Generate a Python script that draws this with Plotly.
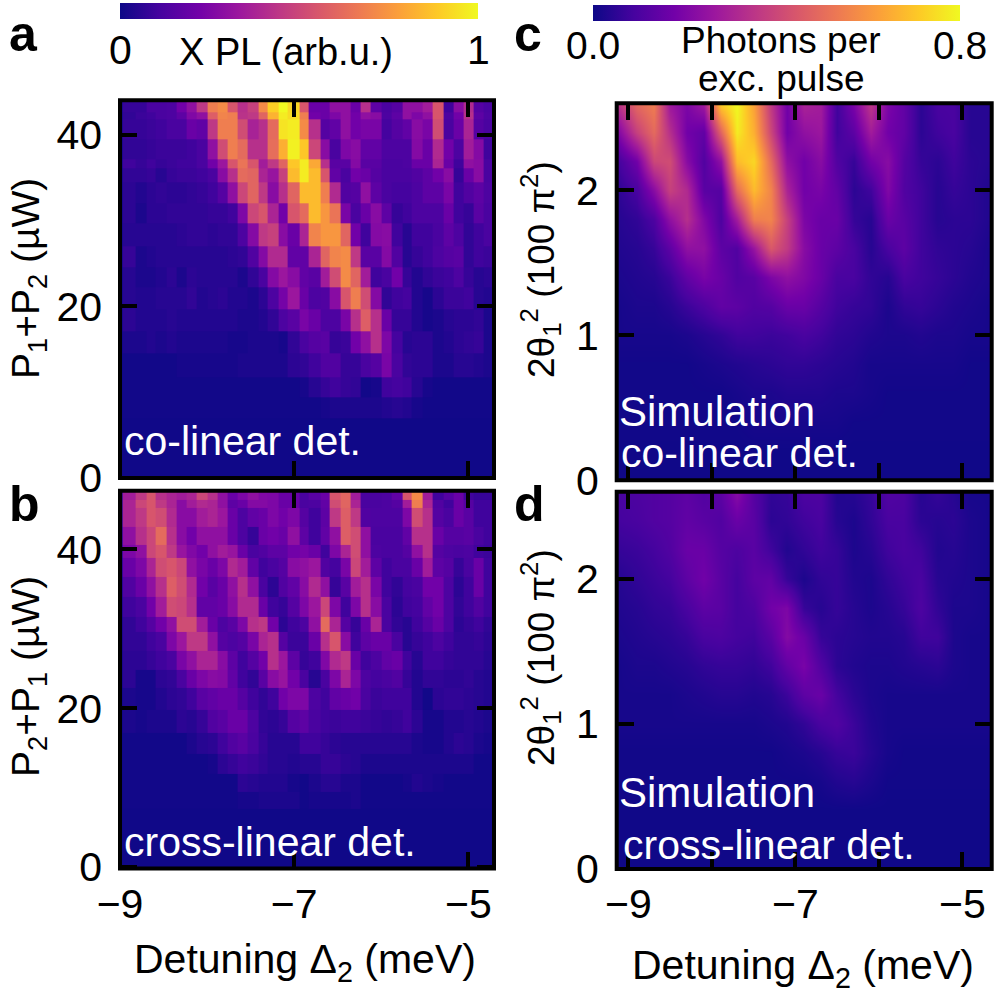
import plotly.graph_objects as go

W = 997
FONT = "Liberation Sans"

# Detuning bin edges of the measured maps (meV)
x_edges_exp = [-8.97, -8.82, -8.70, -8.59, -8.47, -8.35, -8.23, -8.12, -7.99, -7.88, -7.76, -7.65, -7.53,
               -7.41, -7.30, -7.18, -7.07, -6.94, -6.83, -6.70, -6.59, -6.47, -6.35, -6.24, -6.12, -6.00,
               -5.88, -5.76, -5.65, -5.53, -5.41, -5.29, -5.17, -5.06, -4.94, -4.83, -4.70]
# Power bin edges, top to bottom (uW)
y_edges_a = [44.0, 42.64, 41.75, 39.42, 37.09, 36.04, 34.49, 31.96, 29.63, 26.99, 24.58, 22.17, 19.61, 17.13,
             14.56, 11.77, 9.44, 6.99, 0.0]
y_edges_b = [47.5, 46.22, 45.17, 42.86, 40.55, 38.87, 36.55, 34.03, 31.51, 29.62, 27.23, 24.87, 22.61, 19.83,
             16.93, 14.29, 11.76, 9.45, 7.35, -0.2]

z_a = [
 [.08,.08,.12,.12,.13,.22,.30,.45,.68,.72,.55,.42,.48,.72,.90,1.0,.92,.55,.20,.20,.30,.30,.20,.42,.17,.12,.15,.30,.30,.35,.55,.10,.28,.40,.15,.12],
 [.07,.09,.10,.12,.13,.17,.26,.30,.58,.70,.68,.43,.45,.60,.83,.97,.93,.68,.22,.20,.25,.30,.22,.30,.28,.13,.17,.30,.25,.30,.55,.13,.22,.42,.17,.13],
 [.08,.08,.09,.10,.12,.12,.20,.18,.45,.68,.68,.52,.37,.42,.62,.95,.97,.72,.42,.15,.18,.30,.22,.24,.24,.11,.15,.18,.28,.24,.52,.12,.20,.38,.15,.12],
 [.07,.07,.08,.09,.09,.09,.10,.12,.30,.52,.68,.62,.42,.42,.63,.82,.98,.88,.50,.28,.12,.25,.28,.18,.18,.13,.13,.13,.27,.20,.40,.22,.13,.35,.27,.10],
 [.10,.08,.10,.08,.09,.10,.10,.12,.22,.33,.55,.65,.55,.35,.45,.60,.88,.97,.80,.42,.16,.16,.27,.16,.16,.12,.12,.13,.20,.20,.38,.20,.10,.30,.28,.12],
 [.07,.07,.08,.05,.08,.09,.09,.10,.12,.28,.42,.62,.60,.38,.32,.48,.85,.97,.85,.55,.18,.12,.22,.20,.15,.12,.12,.12,.14,.17,.22,.28,.08,.20,.28,.12],
 [.06,.04,.06,.07,.06,.06,.07,.08,.10,.15,.30,.50,.60,.45,.28,.42,.60,.85,.85,.68,.40,.14,.15,.30,.17,.12,.11,.11,.13,.17,.17,.24,.10,.14,.17,.13],
 [.06,.03,.06,.06,.07,.07,.07,.07,.08,.08,.10,.25,.50,.55,.38,.22,.55,.62,.85,.75,.65,.24,.12,.20,.28,.17,.08,.10,.13,.13,.13,.20,.10,.08,.16,.12],
 [.05,.05,.05,.05,.05,.06,.07,.07,.06,.07,.07,.13,.27,.45,.48,.28,.20,.38,.70,.75,.75,.60,.22,.10,.27,.28,.10,.05,.10,.10,.12,.17,.13,.07,.10,.12],
 [.08,.03,.04,.05,.05,.05,.05,.05,.05,.05,.06,.07,.14,.27,.40,.40,.18,.18,.38,.60,.70,.72,.45,.16,.16,.27,.14,.05,.08,.10,.13,.15,.16,.07,.10,.09],
 [.05,.03,.03,.04,.06,.03,.06,.05,.05,.05,.05,.03,.07,.12,.27,.33,.28,.18,.16,.35,.52,.72,.60,.35,.10,.12,.22,.08,.04,.07,.09,.10,.13,.08,.05,.06],
 [.05,.04,.04,.05,.05,.05,.07,.04,.05,.06,.04,.04,.03,.06,.13,.23,.33,.20,.13,.14,.28,.55,.68,.52,.27,.07,.10,.11,.04,.02,.06,.09,.09,.10,.05,.04],
 [.06,.04,.04,.04,.05,.04,.04,.04,.04,.04,.04,.03,.03,.04,.07,.13,.16,.24,.20,.13,.13,.24,.42,.58,.42,.20,.08,.08,.04,.02,.03,.05,.06,.06,.07,.03],
 [.03,.03,.04,.03,.04,.03,.03,.03,.03,.03,.02,.02,.03,.03,.03,.02,.07,.12,.15,.16,.08,.09,.22,.30,.42,.25,.11,.05,.06,.06,.03,.04,.06,.07,.08,.03],
 [.01,.01,.01,.01,.01,.02,.02,.02,.02,.02,.02,.03,.03,.03,.03,.03,.06,.07,.10,.14,.14,.08,.08,.12,.15,.24,.12,.07,.06,.06,.03,.03,.05,.05,.04,.03],
 [.01,.01,.01,.01,.01,.01,.01,.01,.01,.01,.01,.01,.01,.01,.01,.01,.01,.02,.05,.08,.10,.08,.07,.01,.02,.10,.11,.10,.05,.02,.01,.01,.01,.01,.01,.01],
 [.01,.01,.01,.01,.01,.01,.01,.01,.01,.01,.01,.01,.01,.01,.01,.01,.01,.01,.01,.02,.03,.03,.03,.03,.03,.04,.05,.04,.02,.01,.01,.01,.01,.01,.01,.01],
 [.005,.005,.005,.005,.005,.005,.005,.005,.005,.005,.005,.005,.005,.005,.005,.005,.005,.005,.005,.005,.005,.005,.005,.005,.005,.005,.005,.005,.005,.005,.005,.005,.005,.005,.005,.005],
]

z_b = [
 [.35,.45,.55,.42,.38,.35,.38,.50,.42,.30,.20,.25,.30,.26,.25,.20,.20,.12,.16,.20,.55,.60,.35,.12,.12,.13,.18,.55,.72,.35,.10,.15,.20,.10,.08,.08],
 [.38,.50,.55,.45,.38,.28,.35,.40,.38,.30,.17,.20,.27,.27,.25,.20,.20,.12,.13,.18,.52,.60,.38,.12,.12,.13,.15,.35,.68,.38,.14,.10,.20,.15,.10,.10],
 [.38,.45,.55,.52,.40,.28,.28,.35,.38,.33,.20,.13,.18,.20,.25,.22,.25,.15,.10,.17,.45,.58,.45,.14,.13,.13,.13,.25,.52,.42,.15,.12,.20,.16,.10,.10],
 [.30,.42,.50,.62,.42,.28,.22,.30,.30,.30,.20,.13,.08,.20,.22,.20,.30,.17,.10,.18,.30,.58,.52,.30,.12,.12,.12,.18,.42,.42,.20,.15,.15,.16,.12,.10],
 [.25,.30,.50,.55,.45,.32,.26,.22,.30,.35,.32,.20,.12,.14,.17,.17,.22,.23,.20,.10,.25,.38,.52,.30,.13,.12,.12,.15,.30,.42,.15,.13,.12,.13,.10,.09],
 [.20,.25,.38,.52,.55,.50,.30,.24,.20,.25,.40,.35,.18,.10,.12,.15,.28,.30,.33,.14,.11,.24,.50,.35,.17,.10,.12,.12,.20,.35,.17,.15,.08,.12,.20,.10],
 [.14,.20,.30,.42,.58,.52,.40,.22,.16,.20,.30,.42,.30,.12,.06,.14,.18,.28,.40,.30,.08,.16,.35,.42,.24,.10,.07,.11,.12,.22,.22,.13,.06,.10,.20,.10],
 [.10,.12,.22,.35,.52,.50,.42,.18,.18,.20,.28,.40,.40,.20,.10,.08,.15,.25,.33,.50,.25,.10,.25,.42,.28,.12,.06,.10,.11,.18,.22,.13,.07,.10,.14,.10],
 [.07,.10,.15,.22,.30,.52,.52,.35,.20,.13,.16,.25,.42,.45,.22,.06,.10,.13,.30,.62,.38,.15,.08,.20,.38,.12,.07,.05,.10,.15,.20,.13,.06,.08,.10,.07],
 [.07,.07,.10,.12,.25,.33,.45,.45,.30,.15,.13,.15,.24,.38,.42,.15,.09,.09,.20,.42,.55,.28,.10,.17,.20,.20,.12,.05,.08,.10,.13,.10,.07,.07,.08,.06],
 [.06,.06,.08,.10,.12,.24,.30,.38,.38,.28,.17,.10,.15,.22,.42,.33,.17,.08,.10,.26,.40,.45,.20,.10,.13,.18,.20,.10,.05,.10,.10,.08,.07,.07,.07,.05],
 [.06,.02,.02,.06,.07,.12,.20,.25,.28,.27,.18,.10,.07,.16,.28,.32,.22,.12,.05,.12,.25,.38,.25,.13,.11,.12,.14,.08,.04,.07,.07,.06,.06,.07,.05,.04],
 [.03,.02,.02,.04,.06,.07,.10,.16,.18,.20,.20,.15,.10,.07,.10,.22,.25,.25,.13,.10,.18,.20,.22,.12,.09,.10,.10,.10,.04,.01,.06,.07,.07,.06,.05,.04],
 [.03,.02,.03,.03,.03,.06,.05,.08,.14,.16,.20,.20,.13,.07,.06,.08,.15,.17,.12,.10,.09,.10,.10,.09,.08,.07,.08,.10,.06,.02,.02,.04,.04,.05,.04,.03],
 [.01,.01,.01,.01,.01,.01,.03,.05,.06,.10,.14,.16,.12,.08,.05,.05,.05,.10,.10,.08,.06,.05,.05,.05,.05,.05,.05,.05,.03,.02,.02,.04,.06,.05,.03,.02],
 [.01,.01,.01,.01,.01,.01,.01,.01,.02,.06,.08,.10,.09,.07,.05,.05,.04,.05,.05,.08,.08,.06,.05,.03,.03,.03,.03,.03,.03,.03,.03,.03,.03,.03,.01,.01],
 [.01,.01,.01,.01,.01,.01,.01,.01,.01,.01,.01,.06,.05,.04,.04,.04,.02,.01,.03,.05,.05,.03,.03,.01,.01,.01,.01,.02,.04,.03,.02,.01,.01,.01,.01,.01],
 [.01,.01,.01,.01,.01,.01,.01,.01,.01,.01,.01,.02,.02,.03,.03,.03,.03,.01,.02,.02,.02,.02,.03,.01,.01,.01,.01,.01,.01,.01,.01,.01,.01,.01,.01,.01],
 [.005,.005,.005,.005,.005,.005,.005,.005,.005,.005,.005,.005,.005,.005,.005,.005,.005,.005,.005,.005,.005,.005,.005,.005,.005,.005,.005,.005,.005,.005,.005,.005,.005,.005,.005,.005],
]

# Simulation sample positions
x_sim = [-9.1, -8.9, -8.7, -8.5, -8.3, -8.1, -7.9, -7.7, -7.5, -7.3, -7.1, -6.9, -6.7, -6.5, -6.3, -6.1, -5.9,
         -5.7, -5.5, -5.3, -5.1, -4.9, -4.7]
y_sim = [2.6, 2.4, 2.2, 2.0, 1.8, 1.6, 1.4, 1.2, 1.0, 0.8, 0.6, 0.4, 0.2, 0.0]

# Photons per pulse as fraction of the 0.8 colour-bar maximum
frac_c = [
 [.45,.62,.68,.33,.25,.35,.90,1.0,.78,.45,.22,.38,.35,.10,.25,.45,.25,.18,.06,.12,.12,.05,.05],
 [.28,.48,.62,.42,.22,.18,.60,.97,.82,.50,.22,.30,.33,.10,.17,.35,.22,.18,.06,.10,.12,.05,.05],
 [.12,.22,.50,.52,.28,.14,.30,.85,.92,.62,.30,.22,.28,.14,.08,.22,.28,.15,.08,.06,.10,.06,.05],
 [.07,.12,.28,.48,.40,.16,.15,.62,.85,.70,.38,.22,.24,.18,.06,.10,.26,.14,.10,.05,.08,.06,.04],
 [.05,.07,.13,.30,.42,.26,.13,.35,.68,.70,.48,.25,.20,.20,.08,.05,.20,.16,.10,.05,.06,.06,.04],
 [.04,.05,.08,.17,.30,.30,.17,.14,.32,.56,.46,.28,.20,.17,.12,.05,.12,.17,.10,.07,.06,.05,.03],
 [.03,.04,.05,.09,.18,.24,.20,.14,.16,.25,.30,.26,.20,.12,.12,.07,.05,.12,.10,.08,.06,.04,.03],
 [.02,.03,.03,.05,.09,.13,.18,.17,.14,.15,.20,.20,.15,.10,.08,.07,.03,.07,.08,.06,.04,.03,.02],
 [.02,.02,.02,.02,.03,.05,.07,.10,.10,.09,.10,.12,.10,.07,.06,.04,.03,.03,.04,.03,.03,.02,.02],
 [.01,.01,.01,.01,.01,.02,.03,.04,.05,.06,.07,.07,.06,.05,.04,.02,.02,.02,.02,.02,.02,.01,.01],
 [.01,.01,.01,.01,.01,.01,.01,.02,.03,.03,.04,.04,.04,.03,.03,.02,.01,.01,.01,.01,.01,.01,.01],
 [.01,.01,.01,.01,.01,.01,.01,.01,.02,.02,.02,.02,.02,.02,.01,.01,.01,.01,.01,.01,.01,.01,.01],
 [.005,.005,.005,.005,.005,.005,.005,.005,.005,.005,.005,.005,.005,.005,.005,.005,.005,.005,.005,.005,.005,.005,.005],
 [.005,.005,.005,.005,.005,.005,.005,.005,.005,.005,.005,.005,.005,.005,.005,.005,.005,.005,.005,.005,.005,.005,.005],
]
frac_d = [
 [.12,.13,.14,.15,.17,.14,.17,.28,.15,.07,.08,.13,.13,.04,.05,.08,.14,.13,.05,.08,.05,.02,.02],
 [.11,.12,.14,.15,.18,.16,.14,.20,.16,.06,.07,.10,.12,.05,.03,.07,.12,.12,.06,.05,.06,.03,.02],
 [.08,.09,.11,.14,.20,.20,.15,.13,.16,.10,.04,.07,.10,.08,.03,.05,.10,.12,.10,.04,.05,.03,.02],
 [.05,.07,.09,.11,.17,.22,.16,.11,.17,.18,.08,.03,.07,.08,.04,.03,.07,.10,.12,.05,.04,.03,.02],
 [.04,.05,.07,.08,.12,.17,.16,.11,.13,.22,.25,.08,.05,.08,.05,.03,.05,.08,.13,.07,.03,.03,.02],
 [.03,.04,.05,.06,.08,.12,.13,.11,.10,.16,.27,.20,.08,.06,.05,.04,.04,.05,.10,.10,.03,.02,.02],
 [.02,.03,.03,.04,.05,.07,.08,.08,.07,.10,.18,.24,.14,.06,.04,.03,.03,.04,.05,.06,.03,.02,.02],
 [.02,.02,.02,.02,.03,.04,.05,.05,.04,.05,.09,.17,.20,.11,.06,.03,.02,.02,.02,.02,.02,.02,.02],
 [.02,.02,.02,.02,.02,.02,.02,.02,.02,.03,.04,.07,.12,.14,.09,.04,.02,.02,.02,.02,.02,.02,.02],
 [.01,.01,.01,.01,.01,.01,.01,.01,.01,.01,.02,.03,.05,.08,.09,.05,.02,.01,.01,.01,.01,.01,.01],
 [.01,.01,.01,.01,.01,.01,.01,.01,.01,.01,.01,.01,.02,.04,.05,.03,.01,.01,.01,.01,.01,.01,.01],
 [.005,.005,.005,.005,.005,.005,.005,.005,.005,.005,.005,.005,.005,.005,.005,.005,.005,.005,.005,.005,.005,.005,.005],
 [.005,.005,.005,.005,.005,.005,.005,.005,.005,.005,.005,.005,.005,.005,.005,.005,.005,.005,.005,.005,.005,.005,.005],
 [.005,.005,.005,.005,.005,.005,.005,.005,.005,.005,.005,.005,.005,.005,.005,.005,.005,.005,.005,.005,.005,.005,.005],
]
PHOTONS_MAX = 0.8

for name, m, n in [("a", z_a, 36), ("b", z_b, 36), ("c", frac_c, 23), ("d", frac_d, 23)]:
    for i, r in enumerate(m):
        assert len(r) == n, (name, i, len(r))
assert len(z_a) == len(y_edges_a) - 1 and len(z_b) == len(y_edges_b) - 1
assert len(frac_c) == len(y_sim) and len(frac_d) == len(y_sim)

def fx(p): return p / W
def fy(p): return 1 - p / W

fig = go.Figure()
fig.add_trace(go.Heatmap(x=x_edges_exp, y=y_edges_a[::-1], z=z_a[::-1], coloraxis="coloraxis", xaxis="x", yaxis="y", showlegend=False))
fig.add_trace(go.Heatmap(x=x_edges_exp, y=y_edges_b[::-1], z=z_b[::-1], coloraxis="coloraxis", xaxis="x2", yaxis="y2"))
fig.add_trace(go.Heatmap(x=x_sim, y=y_sim[::-1], z=[[v * PHOTONS_MAX for v in r] for r in frac_c[::-1]],
                         coloraxis="coloraxis2", xaxis="x3", yaxis="y3", zsmooth="best"))
fig.add_trace(go.Heatmap(x=x_sim, y=y_sim[::-1], z=[[v * PHOTONS_MAX for v in r] for r in frac_d[::-1]],
                         coloraxis="coloraxis2", xaxis="x4", yaxis="y4", zsmooth="best"))

TICKFONT = dict(family=FONT, size=41, color="black")
def xax(box, rng, vals, text, labels):
    return dict(domain=[fx(box[0]), fx(box[1])], range=rng, tickmode="array", tickvals=vals, ticktext=text,
                ticks="inside", ticklen=17, tickwidth=4, tickcolor="black", showline=False, mirror="ticks",
                showgrid=False, zeroline=False, showticklabels=labels, tickfont=TICKFONT, ticklabelstandoff=7)
def yax(box, rng, vals):
    return dict(domain=[fy(box[3]), fy(box[2])], range=rng, tickmode="array", tickvals=vals,
                ticktext=[str(v) for v in vals],
                ticks="inside", ticklen=17, tickwidth=4, tickcolor="black", showline=False, mirror="ticks",
                showgrid=False, zeroline=False, tickfont=TICKFONT, ticklabelstandoff=17)

box_a = (120, 494, 100.3, 478)
box_b = (120, 494, 490.7, 868.5)
box_c = (616.7, 991.7, 103.3, 480.3)
box_d = (616.7, 991.7, 491.7, 869)
x_exp = [-9, -4.706]
x_s = [-9.14, -4.65]
maj = [-9, -7, -5]
maj_t = ["−9", "−7", "−5"]
all_v = [-9, -8, -7, -6, -5]
all_t = ["−9", "", "−7", "", "−5"]

fig.update_layout(
    width=W, height=W, margin=dict(l=0, r=0, t=0, b=0, autoexpand=False),
    paper_bgcolor="white", plot_bgcolor="#0d0887", showlegend=False,
    font=dict(family=FONT, size=41, color="black"),
    xaxis=dict(xax(box_a, x_exp, maj, maj_t, False), anchor="y"),
    yaxis=dict(yax(box_a, [0, 44], [0, 20, 40]), anchor="x"),
    xaxis2=dict(xax(box_b, x_exp, maj, maj_t, True), anchor="y2"),
    yaxis2=dict(yax(box_b, [-0.2, 47.4], [0, 20, 40]), anchor="x2"),
    xaxis3=dict(xax(box_c, x_s, all_v, all_t, False), anchor="y3"),
    yaxis3=dict(yax(box_c, [0, 2.6], [0, 1, 2]), anchor="x3"),
    xaxis4=dict(xax(box_d, x_s, all_v, all_t, True), anchor="y4"),
    yaxis4=dict(yax(box_d, [0, 2.6], [0, 1, 2]), anchor="x4"),
    coloraxis=dict(colorscale="Plasma", cmin=0, cmax=1, colorbar=dict(
        orientation="h", x=fx(120), xanchor="left", xpad=0, len=358 / W, y=fy(2.7), yanchor="top", ypad=0,
        thickness=16, outlinewidth=0, ticks="", showticklabels=False)),
    coloraxis2=dict(colorscale="Plasma", cmin=0, cmax=PHOTONS_MAX, colorbar=dict(
        orientation="h", x=fx(593.3), xanchor="left", xpad=0, len=366.7 / W, y=fy(5.3), yanchor="top", ypad=0,
        thickness=16, outlinewidth=0, ticks="", showticklabels=False)),
)

def note(text, x, y, size=39, color="black", anchor="center", angle=0, bold=False):
    fig.add_annotation(text=f"<b>{text}</b>" if bold else text, x=fx(x), y=fy(y), xref="paper", yref="paper",
                       showarrow=False, xanchor=anchor, yanchor="middle", textangle=angle,
                       font=dict(family=FONT, size=size, color=color))

for b in (box_a, box_b, box_c, box_d):
    fig.add_shape(type="rect", xref="paper", yref="paper", x0=fx(b[0]), x1=fx(b[1]), y0=fy(b[3]), y1=fy(b[2]),
                  line=dict(color="black", width=4), layer="above")

note("a", 7, 34, 50, bold=True, anchor="left")
note("b", 7, 504, 50, bold=True, anchor="left")
note("c", 512, 34, 50, bold=True, anchor="left")
note("d", 512, 504, 50, bold=True, anchor="left")
note("0", 120, 50, 41)
note("1", 478, 50, 41)
note("X PL (arb.u.)", 286, 52, 38)
note("0.0", 593, 45, 39)
note("0.8", 960, 45, 39)
note("Photons per", 781, 41, 37)
note("exc. pulse", 781, 78, 37)
note("co-linear det.", 122, 441, 41, "white", "left")
note("cross-linear det.", 122, 842, 41, "white", "left")
note("Simulation", 617, 411, 42, "white", "left")
note("co-linear det.", 619, 453, 41, "white", "left")
note("Simulation", 617, 792, 42, "white", "left")
note("cross-linear det.", 621, 845, 41, "white", "left")
note("Detuning Δ<sub>2</sub> (meV)", 305, 962, 41)
note("Detuning Δ<sub>2</sub> (meV)", 803, 968, 41)
note("P<sub>1</sub>+P<sub>2</sub> (µW)", 28, 279, 39, angle=-90)
note("P<sub>2</sub>+P<sub>1</sub> (µW)", 28, 677, 39, angle=-90)
note("2θ<sub>1</sub><sup>2</sup> (100 π<sup>2</sup>)", 540, 270, 37, angle=-90)
note("2θ<sub>1</sub><sup>2</sup> (100 π<sup>2</sup>)", 540, 658, 37, angle=-90)

fig.write_html("out.html", config=dict(displayModeBar=False),
               post_script="document.body.style.margin='0';document.body.style.overflow='hidden';")
